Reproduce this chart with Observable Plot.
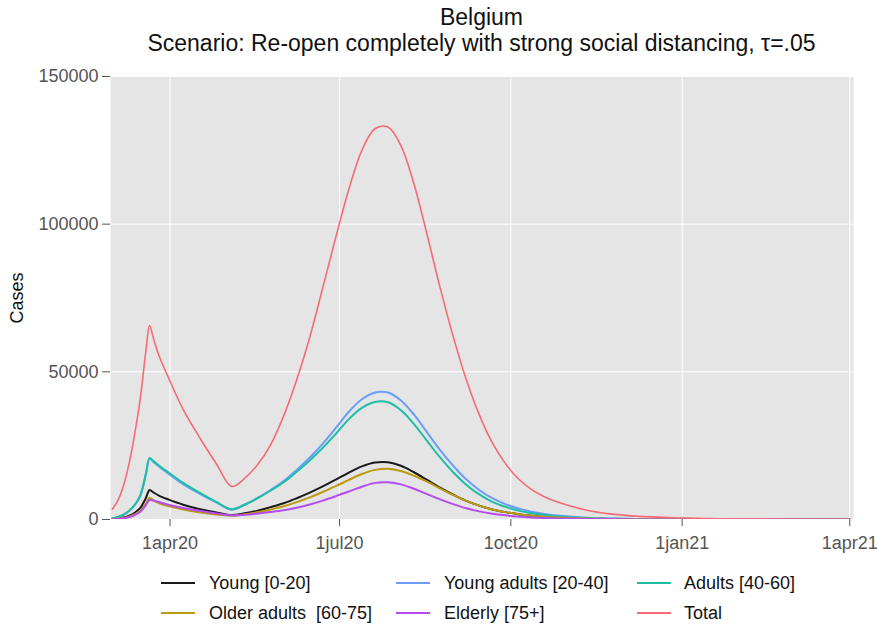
<!DOCTYPE html>
<html><head><meta charset="utf-8">
<script src="https://cdn.jsdelivr.net/npm/d3@7"></script>
<script src="https://cdn.jsdelivr.net/npm/@observablehq/plot@0.6"></script>
<style>
body{margin:0;background:#fff;font-family:"Liberation Sans",Arial,sans-serif;}
#wrap{position:relative;width:877px;height:626px;overflow:hidden;background:#fff;}
.t{position:absolute;left:110px;width:743px;text-align:center;font-size:23px;color:#111;white-space:nowrap;line-height:26px;}
#chart{position:absolute;left:0;top:60px;}
#ylab{position:absolute;left:17px;top:298px;transform:translate(-50%,-50%) rotate(-90deg);font-size:18px;color:#111;white-space:nowrap;}
.lg{position:absolute;font-size:18px;color:#111;white-space:pre;line-height:20px;}
.sw{position:absolute;height:0;border-top:2px solid;width:34px;}
</style></head>
<body><div id="wrap">
<div class="t" style="top:4px">Belgium</div>
<div class="t" style="top:30px">Scenario: Re-open completely with strong social distancing, τ=.05</div>
<div id="chart"></div>
<div id="ylab">Cases</div>
<div id="legend"></div>
</div>
<script>
const dates = ["2020-03-01","2020-03-04","2020-03-07","2020-03-10","2020-03-13","2020-03-16","2020-03-19","2020-03-21","2020-03-23","2020-03-26","2020-03-31","2020-04-08","2020-04-17","2020-04-26","2020-05-04",
"2020-05-11","2020-05-18","2020-05-25","2020-06-01","2020-06-08","2020-06-15","2020-06-22","2020-06-29","2020-07-06","2020-07-13","2020-07-20","2020-07-27","2020-08-03","2020-08-10","2020-08-17","2020-08-24","2020-08-31","2020-09-07","2020-09-14","2020-09-21","2020-09-28","2020-10-05","2020-10-12","2020-10-19","2020-10-26",
"2020-11-09","2020-11-23","2020-12-07","2020-12-28","2021-02-01","2021-04-01"];

const young =       [150,350,700,1300,2300,3900,7300,10000,9200,8100,6800,5000,3500,2400,1500,
  2100,3000,4200,5500,7200,9100,11200,13500,15900,18000,19300,19400,18200,16000,13400,10800,8400,6300,4700,3400,2500,1800,1300,920,650,
  330,170,85,30,8,1];
const youngAdults = [350,800,1600,2900,4900,8000,15200,20600,19500,18000,15600,12000,8700,5700,3300,
  5000,7300,10000,13000,16800,21000,25700,31000,36500,40700,43000,43000,40300,35500,29500,23500,18200,13600,10000,7200,5200,3700,2650,1900,1350,
  700,380,200,80,20,2];
const adults =      [400,900,1700,3000,5000,8200,15500,20800,19800,18300,16000,12400,9000,5900,3500,
  5000,7200,9800,12600,16200,20000,24300,29000,34000,37800,39800,39700,37000,32300,26600,21000,16000,11800,8500,6000,4300,3000,2100,1500,1050,
  520,270,140,55,12,1];
const olderAdults = [100,250,500,950,1700,2900,5400,7400,6500,5600,4600,3400,2400,1700,1300,
  1750,2450,3400,4500,5900,7500,9300,11300,13400,15400,16800,17200,16400,14800,12800,10500,8300,6300,4700,3400,2500,1800,1300,920,650,
  330,170,85,30,8,1];
const elderly =     [80,200,400,800,1500,2600,4900,6600,6400,5900,5000,3900,2900,2000,1400,
  1600,2000,2500,3100,4000,5100,6400,7900,9500,11100,12400,12600,11900,10400,8600,6800,5200,3800,2750,1950,1400,1000,700,490,340,
  170,85,40,14,4,0];
const total =       [3500,6500,11500,19000,29000,41000,57000,65700,61500,55500,48200,37300,27600,18700,11200,
  13900,18600,25300,35100,47300,61700,78500,95600,111800,125000,132300,132900,126500,113500,96500,78500,62000,47500,35500,26000,19000,13800,10200,7700,5900,
  3400,1900,1150,600,180,20];

const seriesNames = ["Young [0-20]","Young adults [20-40]","Adults [40-60]","Older adults  [60-75]","Elderly [75+]","Total"];
const seriesValues = [young, youngAdults, adults, olderAdults, elderly, total];
const seriesColors = ["#1a1a1a","#6A9EF8","#1DBEA5","#BC9A10","#B44CF2","#F66A78"];
const seriesWidths = [2,2,2,2,2,1.6];

const xTickDates = ["2020-04-01","2020-07-01","2020-10-01","2021-01-01","2021-04-01"];
const xTickLabels = ["1apr20","1jul20","1oct20","1jan21","1apr21"];
const yTicks = [0,50000,100000,150000];
const xDomain = ["2020-02-29","2021-04-03"];

const parse = d3.utcParse("%Y-%m-%d");
const xTicks = xTickDates.map(parse);
const labelFor = new Map(xTicks.map((d,i)=>[+d, xTickLabels[i]]));

const marks = [
  Plot.frame({fill:"#e5e5e5", stroke:null}),
  Plot.gridX(xTicks, {stroke:"#fff", strokeOpacity:1, strokeWidth:1}),
  Plot.gridY(yTicks, {stroke:"#fff", strokeOpacity:1, strokeWidth:1}),
  Plot.axisX(xTicks, {tickFormat: d => labelFor.get(+d), tickSize:7, tickPadding:10, label:null, stroke:"#555", fill:"#555"}),
  Plot.axisY(yTicks, {tickFormat: d => String(d), tickSize:8, tickPadding:4, label:null, stroke:"#555", fill:"#555"})
];
seriesNames.forEach((name, i) => {
  const rows = dates.map((d, j) => ({date: parse(d), value: seriesValues[i][j]}));
  marks.push(Plot.line(rows, {x:"date", y:"value", stroke: seriesColors[i], strokeWidth: seriesWidths[i], curve:"catmull-rom", clip:"frame"}));
});

const chart = Plot.plot({
  width: 877, height: 504,
  marginLeft: 110, marginRight: 24, marginTop: 16, marginBottom: 45,
  style: {fontFamily: "'Liberation Sans', Arial, sans-serif", fontSize: "18px", background: "transparent", overflow:"visible"},
  x: {type:"utc", domain: xDomain.map(parse)},
  y: {domain:[0,150000]},
  marks
});
document.getElementById("chart").appendChild(chart);

// legend (row-wise, 3 columns)
const legend = document.getElementById("legend");
const colSw = [161, 396, 637];
const colTx = [209, 444, 684];
const rowY = [583, 613];
seriesNames.forEach((name, i) => {
  const r = Math.floor(i/3), c = i%3;
  const sw = document.createElement("div");
  sw.className = "sw";
  sw.style.left = colSw[c] + "px";
  sw.style.top = (rowY[r]-1) + "px";
  sw.style.borderTopColor = seriesColors[i];
  legend.appendChild(sw);
  const tx = document.createElement("div");
  tx.className = "lg";
  tx.style.left = colTx[c] + "px";
  tx.style.top = (rowY[r]-10) + "px";
  tx.textContent = name;
  legend.appendChild(tx);
});
</script>
</body></html>
